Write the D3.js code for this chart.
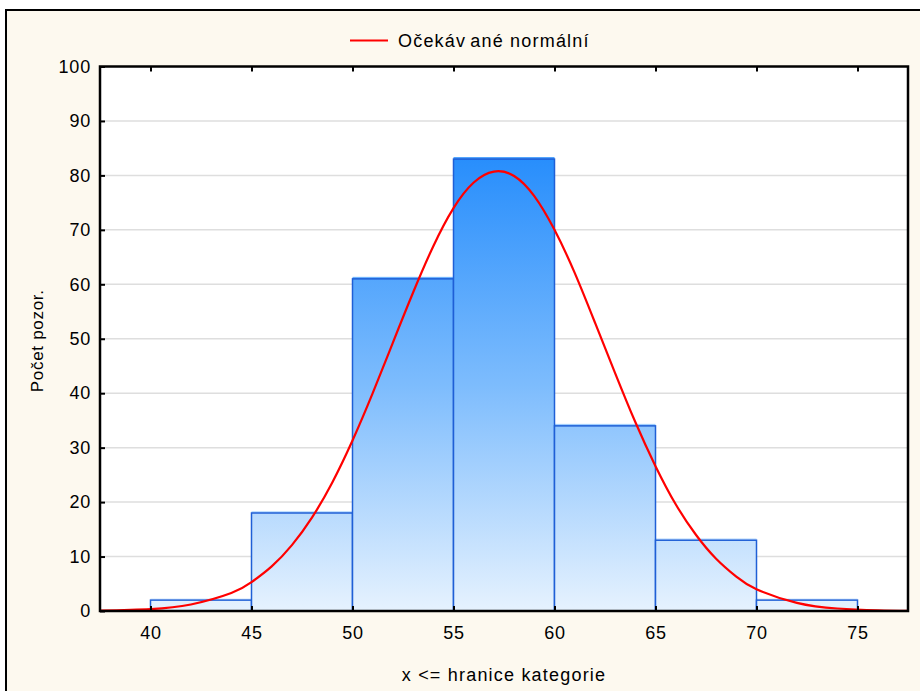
<!DOCTYPE html>
<html lang="cs">
<head>
    <meta charset="UTF-8">
    <title>Histogram</title>
    <script src="https://d3js.org/d3.v7.min.js"></script>
    <style>
        body {
            margin: 0;
            background: #ffffff;
        }
        svg text {
            font-family: "Liberation Sans", Arial, sans-serif;
            fill: #000;
        }
        .axis text {
            font-size: 18px;
            letter-spacing: 0.8px;
        }
    </style>
</head>
<body>
    <svg id="chart" width="920" height="691"></svg>

    <script>
        // Histogram data (category bounds and counts)
        const binStart = [40, 45, 50, 55, 60, 65, 70];
        const binEnd = [45, 50, 55, 60, 65, 70, 75];
        const counts = [2, 18, 61, 83, 34, 13, 2];

        // Expected normal curve
        const curveX = [37.5, 40, 42, 44, 45, 46, 47, 48, 49, 50, 51, 52, 53, 54, 55, 56, 57, 58, 59, 60,
                        61, 62, 63, 64, 65, 66, 67, 68, 69, 70, 72, 74, 76, 77.5];
        const curveY = [0.07, 0.36, 1.2, 3.3, 5.3, 8.2, 12.1, 17.2, 23.6, 31.3, 40.0, 49.3, 58.5, 67.0, 74.0, 78.7, 80.7, 79.9, 76.2, 70.0,
                        62.1, 53.0, 43.7, 34.7, 26.6, 19.6, 14.0, 9.6, 6.3, 4.0, 1.5, 0.46, 0.13, 0.04];

        const xTicks = [40, 45, 50, 55, 60, 65, 70, 75];
        const yTicks = [0, 10, 20, 30, 40, 50, 60, 70, 80, 90, 100];

        const legendParts = ["Očekáv", "ané normální"];
        const xLabel = "x <= hranice kategorie";
        const yLabel = "Počet pozor.";

        // Plot area
        const plot = { left: 100, right: 908, top: 66.5, bottom: 611 };

        const svg = d3.select("#chart");

        // Outer frame
        svg.append("rect")
           .attr("x", 6).attr("y", 10)
           .attr("width", 930).attr("height", 700)
           .attr("fill", "#fdf9ef")
           .attr("stroke", "#000")
           .attr("stroke-width", 2);

        const x = d3.scaleLinear().domain([37.5, 77.5]).range([plot.left, plot.right]);
        const y = d3.scaleLinear().domain([0, 100]).range([plot.bottom, plot.top]);

        // Plot background
        svg.append("rect")
           .attr("x", plot.left).attr("y", plot.top)
           .attr("width", plot.right - plot.left).attr("height", plot.bottom - plot.top)
           .attr("fill", "#fff");

        // Gridlines
        svg.append("g")
           .selectAll("line")
           .data(yTicks.filter(d => d > 0 && d < 100))
           .enter().append("line")
           .attr("x1", plot.left).attr("x2", plot.right)
           .attr("y1", d => y(d)).attr("y2", d => y(d))
           .attr("stroke", "#dedede")
           .attr("stroke-width", 1.5);

        // Gradient for bars
        const grad = svg.append("defs").append("linearGradient")
           .attr("id", "barGrad")
           .attr("gradientUnits", "userSpaceOnUse")
           .attr("x1", 0).attr("x2", 0)
           .attr("y1", y(d3.max(counts))).attr("y2", y(0));
        grad.append("stop").attr("offset", "0%").attr("stop-color", "#288efc");
        grad.append("stop").attr("offset", "50%").attr("stop-color", "#7dbcfd");
        grad.append("stop").attr("offset", "100%").attr("stop-color", "#e6f2fe");

        const bars = binStart.map((s, i) => ({ s: s, e: binEnd[i], n: counts[i] }));

        // Bar fill (slightly taller, gives the light rim above the outline)
        svg.append("g")
           .selectAll("rect")
           .data(bars)
           .enter().append("rect")
           .attr("x", d => x(d.s))
           .attr("y", d => y(d.n) - 2)
           .attr("width", d => x(d.e) - x(d.s))
           .attr("height", d => y(0) - y(d.n) + 2)
           .attr("fill", "url(#barGrad)")
           .attr("opacity", 0.85);

        svg.append("g")
           .selectAll("rect")
           .data(bars)
           .enter().append("rect")
           .attr("x", d => x(d.s))
           .attr("y", d => y(d.n))
           .attr("width", d => x(d.e) - x(d.s))
           .attr("height", d => y(0) - y(d.n))
           .attr("fill", "url(#barGrad)")
           .attr("stroke", "#1f5fd6")
           .attr("stroke-width", 1.5);

        // Normal curve
        svg.append("clipPath").attr("id", "clip")
           .append("rect")
           .attr("x", plot.left).attr("y", plot.top)
           .attr("width", plot.right - plot.left).attr("height", plot.bottom - plot.top);

        const line = d3.line()
           .x((d, i) => x(curveX[i]))
           .y(d => y(d))
           .curve(d3.curveNatural);

        svg.append("path")
           .datum(curveY)
           .attr("clip-path", "url(#clip)")
           .attr("d", line)
           .attr("fill", "none")
           .attr("stroke", "#ff0000")
           .attr("stroke-width", 2.2);

        // Axes
        svg.append("g")
           .attr("class", "axis")
           .attr("transform", `translate(${plot.left},0)`)
           .call(d3.axisLeft(y).tickValues(yTicks).tickSizeInner(-5).tickSizeOuter(0).tickPadding(9))
           .call(g => g.select(".domain").remove())
           .call(g => g.selectAll("line").attr("stroke-width", 2));

        svg.append("g")
           .attr("class", "axis")
           .attr("transform", `translate(0,${plot.bottom})`)
           .call(d3.axisBottom(x).tickValues(xTicks).tickSizeInner(-5).tickSizeOuter(0).tickPadding(15))
           .call(g => g.select(".domain").remove())
           .call(g => g.selectAll("line").attr("stroke-width", 2));

        svg.append("g")
           .attr("transform", `translate(0,${plot.top})`)
           .call(d3.axisTop(x).tickValues(xTicks).tickSizeInner(-5).tickSizeOuter(0).tickFormat(""))
           .call(g => g.select(".domain").remove())
           .call(g => g.selectAll("line").attr("stroke-width", 2));

        // Plot border
        svg.append("rect")
           .attr("x", plot.left).attr("y", plot.top)
           .attr("width", plot.right - plot.left).attr("height", plot.bottom - plot.top)
           .attr("fill", "none")
           .attr("stroke", "#000")
           .attr("stroke-width", 2.5);

        // Legend
        svg.append("line")
           .attr("x1", 350).attr("x2", 388)
           .attr("y1", 40.5).attr("y2", 40.5)
           .attr("stroke", "#ff0000")
           .attr("stroke-width", 2);

        const legendText = svg.append("text")
           .attr("x", 398).attr("y", 47)
           .style("font-size", "18px")
           .style("letter-spacing", "1.2px");
        legendText.append("tspan").text(legendParts[0]);
        legendText.append("tspan").attr("dx", 4).text(legendParts[1]);

        // Axis titles
        svg.append("text")
           .attr("x", (plot.left + plot.right) / 2)
           .attr("y", 681)
           .attr("text-anchor", "middle")
           .style("font-size", "18px")
           .style("letter-spacing", "1.2px")
           .text(xLabel);

        svg.append("text")
           .attr("transform", `translate(43,${(plot.top + plot.bottom) / 2 + 2}) rotate(-90)`)
           .attr("text-anchor", "middle")
           .style("font-size", "17px")
           .style("letter-spacing", "0.7px")
           .text(yLabel);
    </script>
</body>
</html>
